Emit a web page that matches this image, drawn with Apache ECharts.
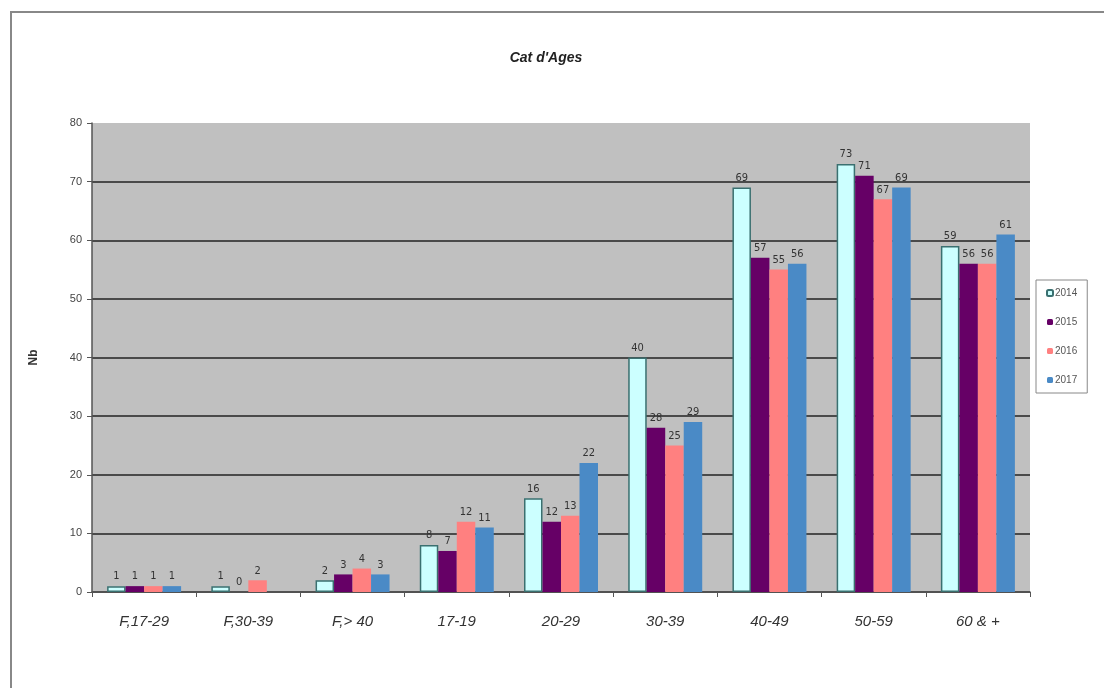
<!DOCTYPE html>
<html><head><meta charset="utf-8">
<script src="https://cdn.jsdelivr.net/npm/echarts@6/dist/echarts.min.js"></script>
<style>html,body{margin:0;padding:0;background:#fff}#c{width:1104px;height:688px}</style>
</head><body><div id="c"></div>
<script>
const categories = ["F,17-29", "F,30-39", "F,> 40", "17-19", "20-29", "30-39", "40-49", "50-59", "60 & +"];
const s2014 = [1, 1, 2, 8, 16, 40, 69, 73, 59];
const s2015 = [1, 0, 3, 7, 12, 28, 57, 71, 56];
const s2016 = [1, 2, 4, 12, 13, 25, 55, 67, 56];
const s2017 = [1, null, 3, 11, 22, 29, 56, 69, 61];
const yTicks = {min: 0, max: 80, interval: 10};

const chart = echarts.init(document.getElementById('c'));
const lbl = {show: true, position: 'top', fontSize: 11, color: '#333', fontFamily: 'DejaVu Sans Condensed, Liberation Sans, sans-serif', distance: 4};
function ser(name, data, color, border) {
  return {name, type: 'bar', data, barGap: '0%', barCategoryGap: '29%',
    itemStyle: {color, borderColor: border, borderWidth: border ? 1.5 : 0},
    label: lbl};
}
chart.setOption({
  animation: false,
  backgroundColor: '#fff',
  title: {text: "Cat d'Ages", left: 541, top: 46, textAlign: 'center',
    textStyle: {fontSize: 14, fontStyle: 'italic', fontWeight: 'bold', color: '#222', fontFamily: 'Liberation Sans, sans-serif'}},
  grid: {left: 92, top: 123, width: 938, height: 469, show: true, backgroundColor: '#c0c0c0', borderWidth: 0},
  legend: {orient: 'vertical', left: 1036, top: 280, itemWidth: 6, itemHeight: 6, itemGap: 19,
    padding: [8, 10, 8, 10], borderColor: '#888', borderWidth: 1, backgroundColor: '#fff',
    textStyle: {fontSize: 10, color: '#555', padding: [0,0,0,-3]},
    data: ['2014', '2015', '2016', '2017']},
  xAxis: {type: 'category', data: categories,
    axisLine: {lineStyle: {color: '#555', width: 1.5}},
    axisTick: {show: true, length: 5, lineStyle: {color: '#555'}},
    axisLabel: {fontSize: 15, fontStyle: 'italic', color: '#333', margin: 22, fontFamily: 'Liberation Sans, sans-serif'}},
  yAxis: {type: 'value', min: yTicks.min, max: yTicks.max, interval: yTicks.interval,
    name: 'Nb', nameLocation: 'middle', nameGap: 52, nameRotate: 90,
    nameTextStyle: {fontSize: 12, fontWeight: 'bold', color: '#333'},
    axisLine: {show: true, lineStyle: {color: '#555', width: 1.5}},
    axisTick: {show: true, length: 5, lineStyle: {color: '#555'}},
    axisLabel: {fontSize: 11, color: '#444', margin: 10},
    splitLine: {showMaxLine: false, lineStyle: {color: '#4a4a4a', width: 2}}},
  graphic: [{type: 'rect', shape: {x: 11, y: 12, width: 1200, height: 800}, silent: true, z: -10,
    style: {fill: 'none', stroke: '#888', lineWidth: 2}}],
  series: [
    ser('2014', s2014, '#ccffff', '#3a7070'),
    ser('2015', s2015, '#660066', null),
    ser('2016', s2016, '#ff8080', null),
    ser('2017', s2017, '#4a8ac6', null)
  ]
});
</script></body></html>
